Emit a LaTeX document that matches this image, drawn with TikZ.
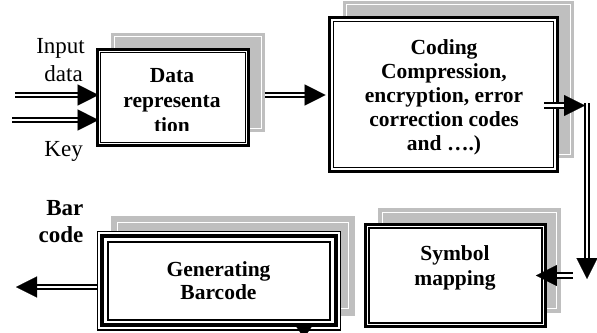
\documentclass[tikz,border=0pt]{standalone}
\usepackage{fontspec}
\setmainfont{Liberation Serif}
\usetikzlibrary{arrows.meta,calc,backgrounds}
\definecolor{shadowc}{gray}{0.75}
\newcommand\mkshadow[3]{%
  \fill[shadowc] ([shift={(#2,-15)}]#1.north west) rectangle ([shift={(#2,-15)}]#1.south east);
  \draw[white,line width=0.9pt] ([shift={(#2+#3,#3-15)}]#1.north west) rectangle ([shift={(#2-#3,-15-#3)}]#1.south east);}
\newcommand\dblarrow[2]{%
  \draw[shaft] (#1) -- ($(#2)!19pt!(#1)$);
  \draw[head] ($(#2)!20pt!(#1)$) -- (#2);}
\begin{document}
\begin{tikzpicture}[x=1pt,y=-1pt,
  box/.style={draw, fill=white, inner sep=0pt},
  boxtext/.style={font=\fontsize{21.5}{24}\selectfont\bfseries, align=center, inner sep=0pt},
  lbl/.style={font=\fontsize{23}{27}\selectfont, inner sep=0pt, anchor=base east},
  blbl/.style={font=\fontsize{23}{27}\selectfont\bfseries, inner sep=0pt, anchor=base east},
  shaft/.style={double=white, double distance=2.6pt, line width=1.8pt},
  head/.style={line width=0.1pt, -{Triangle[length=21pt,width=21pt]}},
]
\useasboundingbox (0,0) rectangle (597,332);
\clip (0,0) rectangle (597,332);

% boxes
\node[box, line width=2.8pt, minimum width=151pt, minimum height=96pt] (data) at (173,97.5) {};
\draw[line width=1.7pt] ([shift={(4.5,4.5)}]data.north west) rectangle ([shift={(-4.5,-4.5)}]data.south east);

\node[box, line width=2.8pt, minimum width=228pt, minimum height=154pt] (coding) at (443.5,94.5) {};
\draw[line width=1.7pt] ([shift={(5.5,5.5)}]coding.north west) rectangle ([shift={(-5.5,-5.5)}]coding.south east);

\node[box, line width=2.8pt, minimum width=180pt, minimum height=102pt] (symbol) at (455.5,275.5) {};
\draw[line width=1.7pt] ([shift={(5,5)}]symbol.north west) rectangle ([shift={(-5,-5)}]symbol.south east);

\node[box, line width=1.2pt, minimum width=243pt, minimum height=98.5pt] (gen) at (219,280.75) {};
\draw[line width=4pt] ([shift={(5.5,5.5)}]gen.north west) rectangle ([shift={(-5.5,-5.5)}]gen.south east);
\draw[line width=1.8pt] ([shift={(11,11)}]gen.north west) rectangle ([shift={(-11,-11)}]gen.south east);
\fill (295,325) -- (313,325) -- (304,338) -- cycle;

% shadows
\begin{scope}[on background layer]
\mkshadow{data}{15}{3.5}
\mkshadow{coding}{15}{3}
\mkshadow{symbol}{14}{4}
\mkshadow{gen}{14}{7}
\end{scope}

% texts
\begin{scope}
\clip (100,52) rectangle (246,130);
\node[boxtext, align=center, font=\fontsize{21.5}{25}\selectfont\bfseries] (datatext) at (172,100.7) {Data\\representa\\tion};
\end{scope}
\node[boxtext] (codingtext) at (444,97.5) {Coding\\Compression,\\encryption, error\\correction codes\\and ….)};
\node[boxtext, font=\fontsize{21.5}{25}\selectfont\bfseries] (symboltext) at (455,268) {Symbol\\mapping};
\node[boxtext, font=\fontsize{21.5}{23}\selectfont\bfseries] (gentext) at (218.5,281) {Generating\\Barcode};

\node[lbl] (input) at (85,53) {Input};
\node[lbl] (inputb) at (83,81) {data};
\node[lbl] (key) at (83,156.5) {Key};
\node[blbl] (bar) at (83.5,215.5) {Bar};
\node[blbl] (barb) at (83.5,242.7) {code};

% connectors
\coordinate (in1) at (15,95);
\coordinate (in1e) at ([xshift=2.5pt]in1 -| data.west);
\dblarrow{in1}{in1e}
\coordinate (in2) at (12,120);
\coordinate (in2e) at ([xshift=2.5pt]in2 -| data.west);
\dblarrow{in2}{in2e}

\coordinate (m1) at ([shift={(15,-2.5)}]data.east);
\coordinate (m1e) at ([xshift=-2.5pt]m1 -| coding.west);
\dblarrow{m1}{m1e}

\coordinate (c1e) at (585,105.5);
\coordinate (c1) at ([xshift=-15pt]c1e -| coding.east);
\dblarrow{c1}{c1e}
\coordinate (c2) at (587,103);
\coordinate (c2e) at (587,279);
\dblarrow{c2}{c2e}

\coordinate (s1) at (573,275.5);
\coordinate (s1e) at ([xshift=-11pt]s1 -| symbol.east);
\dblarrow{s1}{s1e}

\coordinate (o1e) at (16,287);
\coordinate (o1) at (o1e -| gen.west);
\dblarrow{o1}{o1e}
\end{tikzpicture}
\end{document}
